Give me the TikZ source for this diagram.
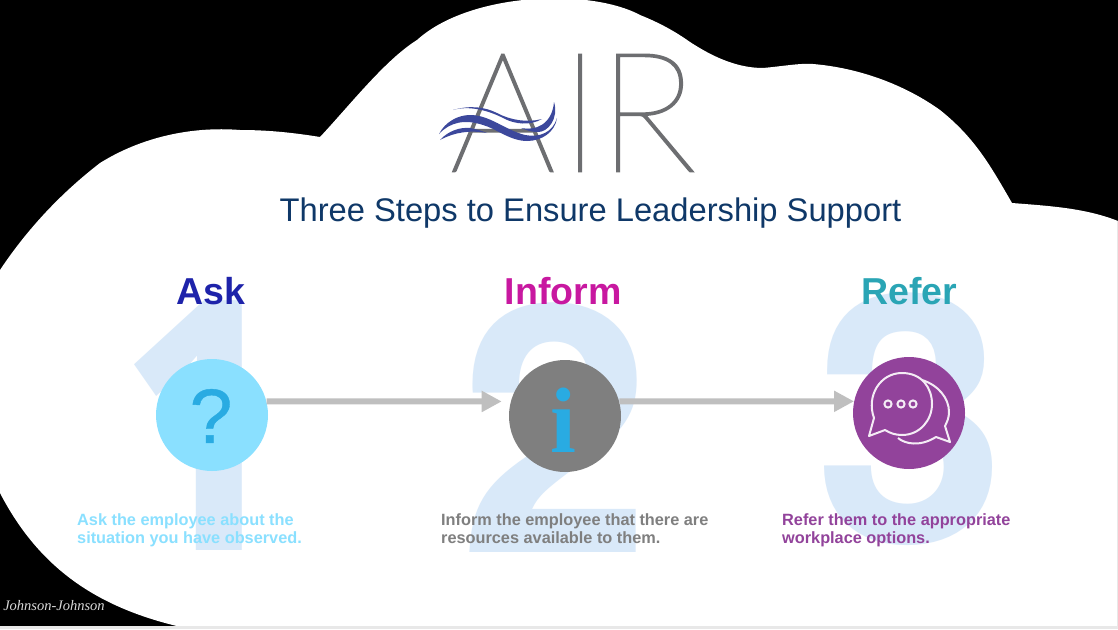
\documentclass[tikz,border=0pt]{standalone}
\usepackage{fontspec}
\setmainfont{Liberation Sans}
\newfontfamily\logofont[FakeBold=1.2]{Lato Thin}
\newfontfamily\numfont{TeX Gyre Heros}
\newfontfamily\onefont{Open Sans}
\newfontfamily\iconfont{Liberation Serif}
\newfontfamily\qfont[FakeBold=0.5]{Liberation Sans}
\usetikzlibrary{arrows.meta, positioning, calc}
\definecolor{askblue}{RGB}{138, 224, 255}
\definecolor{infogray}{RGB}{127, 127, 127}
\definecolor{referpurple}{RGB}{146, 67, 155}
\definecolor{numblue}{RGB}{217, 233, 249}
\definecolor{iconblue}{RGB}{41, 171, 226}
\definecolor{wavecolor}{RGB}{60, 72, 156}
\definecolor{titleblue}{RGB}{15, 56, 104}
\definecolor{logogray}{RGB}{109, 110, 113}
\definecolor{headblue}{RGB}{30, 35, 170}
\definecolor{headpink}{RGB}{200, 24, 160}
\definecolor{headteal}{RGB}{42, 165, 181}

\begin{document}
\begin{tikzpicture}[
          x=1pt, y=-1pt,
          num/.style={font=\numfont\bfseries\fontsize{345}{345}\selectfont, text=numblue, inner sep=0pt},
          head/.style={font=\bfseries\fontsize{37.5}{38}\selectfont, inner sep=0pt},
          stepc/.style={circle, minimum size=112pt, inner sep=0pt},
          desc/.style={font=\bfseries\fontsize{16.3}{18}\selectfont, align=left, inner sep=0pt, anchor=north west},
          arr/.style={-{Triangle[length=20pt, width=20pt]}, line width=6pt, draw=black!25},
          bubble/.style={draw=white!90!referpurple, line width=2pt, line join=round},
        ]
        \useasboundingbox (0,0) rectangle (1118,629);
        \fill[black] (0,0) rectangle (1118,629);
        % cloud
        \fill[white] (0,270) .. controls (30,225) and (65,190) .. (100,163)
          .. controls (140,138) and (190,126) .. (240,130)
          .. controls (270,130) and (295,133) .. (320,137)
          .. controls (350,105) and (385,60) .. (417,40)
          .. controls (470,-8) and (590,-12) .. (640,15)
          .. controls (665,25) and (680,35) .. (690,42)
          .. controls (710,55) and (735,68) .. (763,68)
          .. controls (785,66) and (800,63) .. (813,64)
          .. controls (860,68) and (905,85) .. (940,110)
          .. controls (975,138) and (990,165) .. (1012,203)
          .. controls (1050,206) and (1085,208) .. (1118,221)
          -- (1118,629) -- (190,629)
          .. controls (100,610) and (40,570) .. (0,493) -- cycle;
        \fill[black!9] (0,626) rectangle (1118,629);
        \fill[black!9] (1117,221) rectangle (1118,629);

        \node[num, font=\onefont\bfseries\fontsize{350}{350}\selectfont, xscale=.87, transform shape] (n1) at (203,426) {1};
        \node[num] (n2) at (555,428) {2};
        \node[num] (n3) at (910,419) {3};

        \node[font=\logofont\fontsize{167}{167}\selectfont, text=logogray, inner sep=0pt] (air) at (573,113) {A\kern4pt I\kern-3pt R};
        \fill[wavecolor] (439,134) .. controls (445,122) and (458,115) .. (470,115)
          .. controls (490,115) and (505,130) .. (525,135)
          .. controls (540,138) and (553,132) .. (557,118)
          .. controls (555,132) and (542,141) .. (527,141)
          .. controls (510,141) and (495,128) .. (483,125)
          .. controls (465,119) and (450,122) .. (439,134) -- cycle;
        \fill[wavecolor] (453,110) .. controls (470,105) and (485,107) .. (497,113)
          .. controls (510,120) and (527,123) .. (542,119)
          .. controls (530,126) and (515,124) .. (505,119)
          .. controls (490,111) and (470,105) .. (453,110) -- cycle;
        \fill[wavecolor] (440,140) .. controls (448,131) and (460,127) .. (470,128)
          .. controls (476,129) and (482,131) .. (487,133)
          .. controls (470,130) and (455,132) .. (440,140) -- cycle;
        \fill[wavecolor] (521,128) .. controls (535,131) and (552,125) .. (554,102)
          .. controls (559,118) and (548,133) .. (537,132)
          .. controls (531,132) and (526,130) .. (521,128) -- cycle;

        \node[font=\fontsize{32.7}{33}\selectfont, text=titleblue, inner sep=0pt] (title) at (590.5,213) {Three Steps to Ensure Leadership Support};

        \node[head, text=headblue] (askh) at (211,291) {Ask};
        \node[head, text=headpink] (infoh) at (563,291) {Inform};
        \node[head, text=headteal] (referh) at (909,291) {Refer};

        \node[stepc, fill=askblue] (ask) at (212,415) {};
        \node[stepc, fill=infogray] (inform) at (565,416) {};
        \node[stepc, fill=referpurple] (refer) at (909,413) {};

        \draw[arr, shorten >=9pt] (ask.14) -- (inform.165);
        \draw[arr] (inform.15) -- (refer.168);

        \node[font=\qfont\fontsize{77}{77}\selectfont, text=iconblue, inner sep=0pt] (qm) at (211,416) {?};
        \node[font=\iconfont\bfseries\fontsize{93}{93}\selectfont, text=iconblue, inner sep=0pt] (im) at (563,420) {i};

        % chat bubbles
        \draw[bubble] (922,380) .. controls (938,385) and (949,398) .. (949,412)
          .. controls (949,418) and (947,422) .. (945,426) -- (950,442) -- (936,437)
          .. controls (920,447) and (905,444) .. (898,438);
        \draw[bubble] (874,418) .. controls (866,396) and (880,373) .. (902,373)
          .. controls (922,373) and (932,388) .. (932,404)
          .. controls (932,420) and (920,435) .. (902,435)
          .. controls (895,435) and (890,433) .. (885,430) -- (869,436) -- cycle;
        \foreach \dx in {888,901,913}
          \draw[bubble] (\dx,404) circle (3.6pt);

        \node[desc, text=askblue] (askd) at (77,513.5) {Ask the employee about the\\situation you have observed.};
        \node[desc, text=infogray] (infod) at (441,513.5) {Inform the employee that there are\\resources available to them.};
        \node[desc, text=referpurple] (referd) at (782,513.5) {Refer them to the appropriate\\workplace options.};

        \node[font=\iconfont\itshape\fontsize{14.5}{14.5}\selectfont, text=black!15, inner sep=0pt] (jj) at (54,606) {Johnson-Johnson};
      \end{tikzpicture}
\end{document}
